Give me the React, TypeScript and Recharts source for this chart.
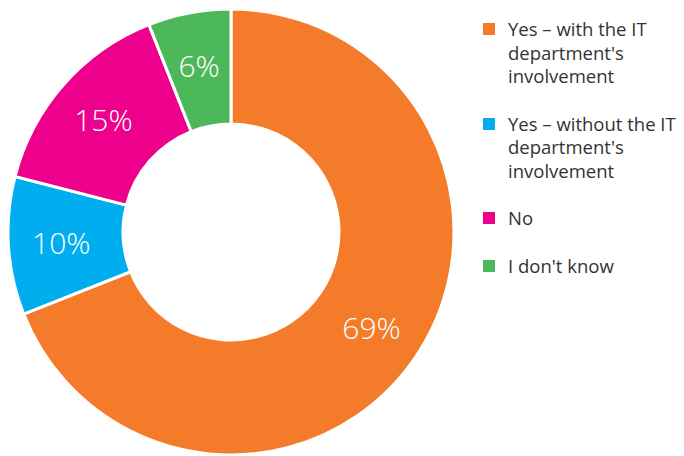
import { Cell, Legend, Pie, PieChart } from 'recharts';

const answers = ["Yes – with the IT\ndepartment's\ninvolvement", "Yes – without the IT\ndepartment's\ninvolvement", 'No', "I don't know"];
const shares = [69, 10, 15, 6];
const colors = ['#F47B2A', '#00AEEF', '#EC008C', '#4DB85A'];

const data = answers.map((name, i) => ({ name, value: shares[i] }));

const RADIAN = Math.PI / 180;

function SliceLabel(props: any) {
  const { cx, cy, midAngle, value } = props;
  const r = 170;
  const x = cx + r * Math.cos(-midAngle * RADIAN);
  const y = cy + r * Math.sin(-midAngle * RADIAN);
  return (
    <text x={x} y={y} fill="#fff" textAnchor="middle" dominantBaseline="central" fontSize={30} fontWeight={300} fontFamily="'Open Sans', sans-serif">
      {`${value}%`}
    </text>
  );
}

function LegendList() {
  return (
    <ul style={{ listStyle: 'none', margin: 0, padding: 0, fontFamily: "'Open Sans', sans-serif", fontSize: 18.5, color: '#333', lineHeight: '23.5px' }}>
      {data.map((d, i) => (
        <li key={d.name} style={{ display: 'flex', alignItems: 'flex-start', marginBottom: 24 }}>
          <span style={{ width: 12, height: 12, background: colors[i], marginTop: 6, marginRight: 13, flex: 'none' }} />
          <span style={{ whiteSpace: 'pre-line' }}>{d.name}</span>
        </li>
      ))}
    </ul>
  );
}

export default function App() {
  return (
    <div style={{ position: 'absolute', left: 0, top: 0, width: 684, height: 456, background: '#fff' }}>
      <PieChart width={684} height={456} margin={{ top: 0, right: 0, bottom: 0, left: 0 }}>
        <Pie
          data={data}
          dataKey="value"
          nameKey="name"
          cx={231}
          cy={232}
          innerRadius={108}
          outerRadius={223}
          startAngle={90}
          endAngle={-270}
          stroke="#fff"
          strokeWidth={3}
          label={SliceLabel}
          labelLine={false}
          isAnimationActive={false}
        >
          {data.map((d, i) => (
            <Cell key={d.name} fill={colors[i]} />
          ))}
        </Pie>
        <Legend
          layout="vertical"
          verticalAlign="top"
          align="right"
          wrapperStyle={{ left: 483, top: 17, width: 200 }}
          content={<LegendList />}
        />
      </PieChart>
    </div>
  );
}
